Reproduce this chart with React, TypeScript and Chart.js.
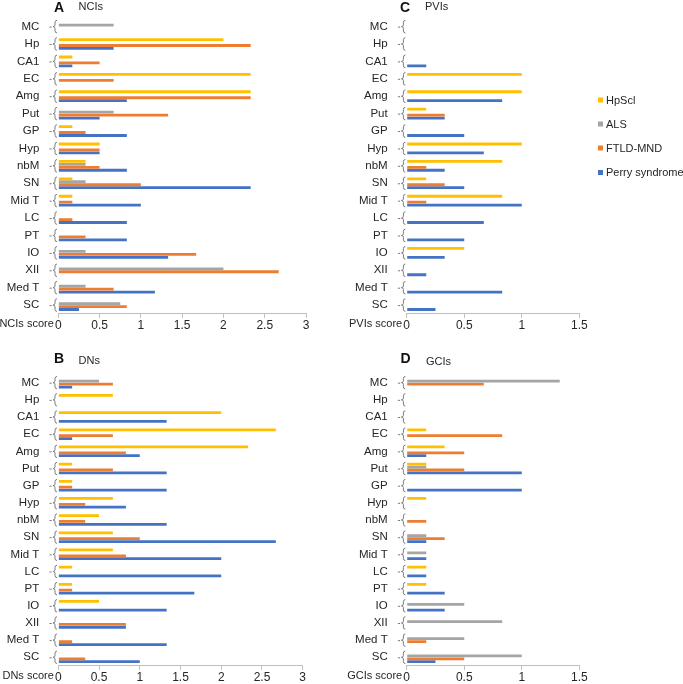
import React, { useEffect, useRef } from 'react';
import { Chart, registerables } from 'chart.js';

Chart.register(...registerables);

const FONT = "'Liberation Sans', Arial, Helvetica, sans-serif";
const TEXT = '#262626';

const categories = ['MC', 'Hp', 'CA1', 'EC', 'Amg', 'Put', 'GP', 'Hyp', 'nbM', 'SN', 'Mid T', 'LC', 'PT', 'IO', 'XII', 'Med T', 'SC'];
const seriesNames = ['HpScl', 'ALS', 'FTLD-MND', 'Perry syndrome'];
const seriesColors = ['#FFC000', '#A5A5A5', '#ED7D31', '#4472C4'];

// A: NCIs
const nciHpScl = [0, 2, 0.17, 2.33, 2.33, 0, 0.17, 0.5, 0.33, 0.17, 0.17, 0, 0, 0, 0, 0, 0];
const nciALS = [0.67, 0, 0, 0, 0, 0.67, 0, 0, 0.33, 0.33, 0, 0, 0, 0.33, 2, 0.33, 0.75];
const nciFTLD = [0, 2.33, 0.5, 0.67, 2.33, 1.33, 0.33, 0.5, 0.5, 1, 0.17, 0.17, 0.33, 1.67, 2.67, 0.67, 0.83];
const nciPerry = [0, 0.67, 0.17, 0, 0.83, 0.5, 0.83, 0.5, 0.83, 2.33, 1, 0.83, 0.83, 1.33, 0, 1.17, 0.25];

// B: DNs
const dnHpScl = [0, 0.67, 2, 2.67, 2.33, 0.17, 0.17, 0.67, 0.5, 0.67, 0.67, 0.17, 0.17, 0.5, 0, 0, 0];
const dnALS = [0.5, 0, 0, 0, 0, 0, 0, 0, 0, 0, 0, 0, 0, 0, 0, 0, 0];
const dnFTLD = [0.67, 0, 0, 0.67, 0.83, 0.67, 0.17, 0.33, 0.33, 1, 0.83, 0, 0.17, 0, 0.83, 0.17, 0.33];
const dnPerry = [0.17, 0, 1.33, 0.17, 1, 1.33, 1.33, 0.83, 1.33, 2.67, 2, 2, 1.67, 1.33, 0.83, 1.33, 1];

// C: PVIs
const pviHpScl = [0, 0, 0, 1, 1, 0.17, 0, 1, 0.83, 0.17, 0.83, 0, 0, 0.5, 0, 0, 0];
const pviALS = [0, 0, 0, 0, 0, 0, 0, 0, 0, 0, 0, 0, 0, 0, 0, 0, 0];
const pviFTLD = [0, 0, 0, 0, 0, 0.33, 0, 0, 0.17, 0.33, 0.17, 0, 0, 0, 0, 0, 0];
const pviPerry = [0, 0, 0.17, 0, 0.83, 0.33, 0.5, 0.67, 0.33, 0.5, 1, 0.67, 0.5, 0.33, 0.17, 0.83, 0.25];

// D: GCIs
const gciHpScl = [0, 0, 0, 0.17, 0.33, 0.17, 0, 0.17, 0, 0, 0, 0.17, 0.17, 0, 0, 0, 0];
const gciALS = [1.33, 0, 0, 0, 0, 0.17, 0, 0, 0, 0.17, 0.17, 0, 0, 0.5, 0.83, 0.5, 1];
const gciFTLD = [0.67, 0, 0, 0.83, 0.5, 0.5, 0, 0, 0.17, 0.33, 0, 0, 0, 0, 0, 0.17, 0.5];
const gciPerry = [0, 0, 0, 0, 0.17, 1, 1, 0, 0, 0.17, 0.17, 0.17, 0.33, 0.33, 0, 0, 0.25];

type Panel = {
  letter: string;
  name: string;
  axisTitle: string;
  series: number[][];
  max: number;
  canvas: { x: number; y: number; w: number; h: number };
  area: { l: number; r: number; t: number; b: number };
  letterPos: [number, number];
  namePos: [number, number];
  legend?: boolean;
};

const panels: Panel[] = [
  {
    letter: 'A', name: 'NCIs', axisTitle: 'NCIs score',
    series: [nciHpScl, nciALS, nciFTLD, nciPerry], max: 3,
    canvas: { x: 0, y: 0, w: 340, h: 340 },
    area: { l: 58.3, r: 306, t: 14.2, b: 313.8 },
    letterPos: [54, 11.5], namePos: [78.5, 10],
  },
  {
    letter: 'B', name: 'DNs', axisTitle: 'DNs score',
    series: [dnHpScl, dnALS, dnFTLD, dnPerry], max: 3,
    canvas: { x: 0, y: 340, w: 340, h: 344 },
    area: { l: 58.3, r: 302.7, t: 374.1, b: 665.9 },
    letterPos: [54, 362.5], namePos: [78.5, 364],
  },
  {
    letter: 'C', name: 'PVIs', axisTitle: 'PVIs score',
    series: [pviHpScl, pviALS, pviFTLD, pviPerry], max: 1.5,
    canvas: { x: 340, y: 0, w: 343, h: 340 },
    area: { l: 406.7, r: 579.3, t: 14.2, b: 313.8 },
    letterPos: [400, 11.5], namePos: [425, 10], legend: true,
  },
  {
    letter: 'D', name: 'GCIs', axisTitle: 'GCIs score',
    series: [gciHpScl, gciALS, gciFTLD, gciPerry], max: 1.5,
    canvas: { x: 340, y: 340, w: 343, h: 344 },
    area: { l: 406.7, r: 579.3, t: 374.1, b: 665.9 },
    letterPos: [400.5, 362.5], namePos: [426, 364.5],
  },
];

const legendX = 598;
const legendY = [100, 124, 148, 172.5];

function makeDecor(p: Panel) {
  return {
    id: 'decor' + p.letter,
    afterDraw(chart: any) {
      const ctx = chart.ctx as CanvasRenderingContext2D;
      const ca = chart.chartArea;
      const ys = chart.scales.y;
      const ox = p.canvas.x;
      const oy = p.canvas.y;
      ctx.save();
      // braces
      const catH = (ca.bottom - ca.top) / categories.length;
      const half = catH * 0.36;
      const L = ca.left;
      const xr = L - 1.3;
      const xs = L - 3.3;
      const xt = L - 5.3;
      ctx.strokeStyle = '#7a7a7a';
      ctx.lineWidth = 1;
      categories.forEach((_, i) => {
        const cy = ys.getPixelForValue(i);
        const top = cy - half;
        const bot = cy + half;
        ctx.beginPath();
        ctx.moveTo(xr, top);
        ctx.quadraticCurveTo(xs, top, xs, top + 2);
        ctx.lineTo(xs, cy - 1.8);
        ctx.quadraticCurveTo(xs, cy, xt, cy);
        ctx.quadraticCurveTo(xs, cy, xs, cy + 1.8);
        ctx.lineTo(xs, bot - 2);
        ctx.quadraticCurveTo(xs, bot, xr, bot);
        ctx.stroke();
        ctx.beginPath();
        ctx.moveTo(L - 8.8, cy + 0.5);
        ctx.lineTo(L - 6.6, cy + 0.5);
        ctx.stroke();
      });
      // axis title next to first tick label
      ctx.fillStyle = TEXT;
      ctx.font = `11px ${FONT}`;
      ctx.textAlign = 'right';
      ctx.textBaseline = 'middle';
      ctx.fillText(p.axisTitle, L - 4.5, ca.bottom + 10);
      // panel letter and name
      ctx.textAlign = 'left';
      ctx.textBaseline = 'alphabetic';
      ctx.font = `bold 14px ${FONT}`;
      ctx.fillStyle = '#111';
      ctx.fillText(p.letter, p.letterPos[0] - ox, p.letterPos[1] - oy);
      ctx.font = `11px ${FONT}`;
      ctx.fillStyle = TEXT;
      ctx.fillText(p.name, p.namePos[0] - ox, p.namePos[1] - oy);
      // legend
      if (p.legend) {
        ctx.textBaseline = 'middle';
        seriesNames.forEach((n, i) => {
          const y = legendY[i] - oy;
          ctx.fillStyle = seriesColors[i];
          ctx.fillRect(legendX - ox, y - 2.5, 5, 5);
          ctx.fillStyle = TEXT;
          ctx.fillText(n, legendX + 8 - ox, y + 0.5);
        });
      }
      ctx.restore();
    },
  };
}

function PanelChart({ p }: { p: Panel }) {
  const ref = useRef<HTMLCanvasElement | null>(null);
  useEffect(() => {
    if (!ref.current) return;
    const { canvas, area } = p;
    const chart = new Chart(ref.current, {
      type: 'bar',
      data: {
        labels: categories,
        datasets: seriesNames.map((n, i) => ({
          label: n,
          data: p.series[i],
          backgroundColor: seriesColors[i],
          borderWidth: 0,
          categoryPercentage: 0.68,
          barPercentage: 0.96,
        })),
      },
      options: {
        indexAxis: 'y',
        animation: false,
        responsive: false,
        maintainAspectRatio: false,
        events: [],
        layout: {
          padding: {
            left: 0,
            top: area.t - canvas.y,
            right: canvas.x + canvas.w - area.r,
            bottom: 0,
          },
        },
        plugins: {
          legend: { display: false },
          tooltip: { enabled: false },
          title: { display: false },
        },
        scales: {
          x: {
            min: 0,
            max: p.max,
            ticks: {
              stepSize: 0.5,
              font: { size: 12, family: FONT },
              color: TEXT,
              padding: 1,
              maxRotation: 0,
              callback: (v: any) => String(Math.round(Number(v) * 10) / 10),
            },
            grid: {
              drawOnChartArea: false,
              drawTicks: true,
              tickLength: 4,
              color: '#BFBFBF',
            },
            border: { display: true, color: '#BFBFBF' },
            afterFit: (s: any) => {
              s.height = canvas.y + canvas.h - area.b;
            },
          },
          y: {
            ticks: {
              font: { size: 11.5, family: FONT },
              color: TEXT,
              padding: 11,
              autoSkip: false,
            },
            grid: { display: false },
            border: { display: false },
            afterFit: (s: any) => {
              s.width = area.l - canvas.x;
            },
          },
        },
      } as any,
      plugins: [makeDecor(p)],
    });
    return () => chart.destroy();
  }, [p]);
  return (
    <canvas
      ref={ref}
      width={p.canvas.w}
      height={p.canvas.h}
      style={{
        position: 'absolute',
        left: p.canvas.x,
        top: p.canvas.y,
        width: p.canvas.w,
        height: p.canvas.h,
        display: 'block',
      }}
    />
  );
}

export default function App() {
  return (
    <div
      style={{
        position: 'fixed',
        left: 0,
        top: 0,
        width: 683,
        height: 684,
        background: '#ffffff',
        overflow: 'hidden',
      }}
    >
      {panels.map((p) => (
        <PanelChart key={p.letter} p={p} />
      ))}
    </div>
  );
}
